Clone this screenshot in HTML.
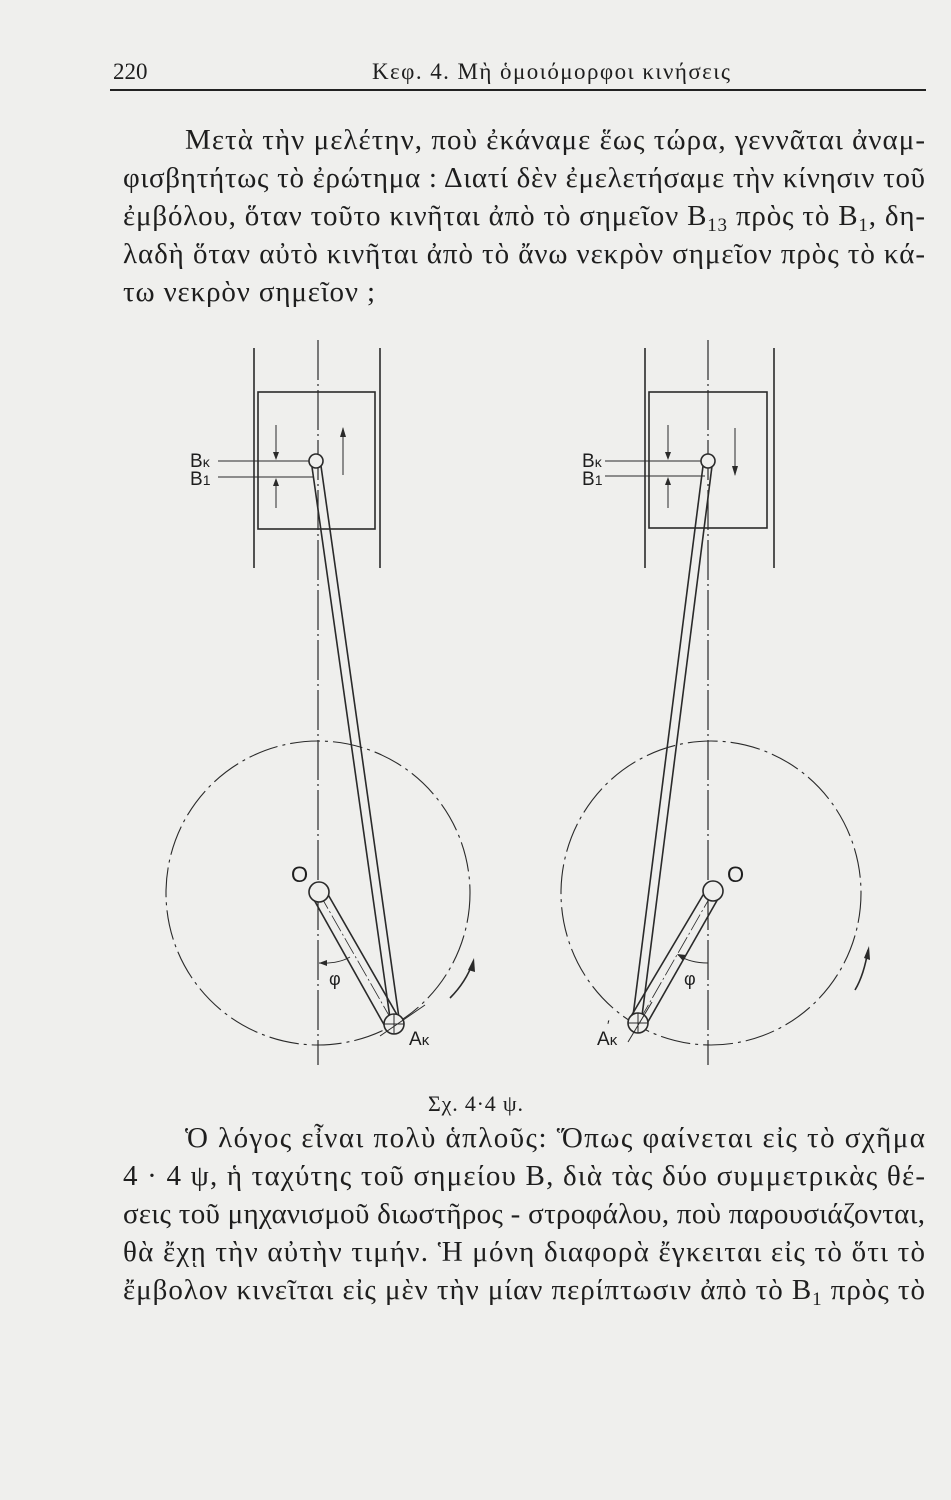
<!DOCTYPE html>
<html><head><meta charset="utf-8"><style>
html,body{margin:0;padding:0;background:#efefed;}
svg{display:block}
text{font-family:"Liberation Serif","DejaVu Serif",serif;fill:#1e1e1e}
.s{font-family:"Liberation Sans","DejaVu Sans",sans-serif}
</style></head><body>
<svg width="951" height="1500" viewBox="0 0 951 1500" xmlns="http://www.w3.org/2000/svg">
<rect width="951" height="1500" fill="#efefed"/>
<text x="113" y="79" font-size="23">220</text>
<text x="372" y="79" font-size="23" textLength="358" lengthAdjust="spacing">Κεφ. 4. Μὴ ὁμοιόμορφοι κινήσεις</text>
<line x1="110" y1="90" x2="926" y2="90" stroke="#222" stroke-width="2"/>
<g font-size="29">
<text x="185" y="149" textLength="740" lengthAdjust="spacing">Μετὰ τὴν μελέτην, ποὺ ἐκάναμε ἕως τώρα, γεννᾶται ἀναμ-</text>
<text x="123" y="187" textLength="802" lengthAdjust="spacing">φισβητήτως τὸ ἐρώτημα : Διατί δὲν ἐμελετήσαμε τὴν κίνησιν τοῦ</text>
<text x="123" y="225" textLength="802" lengthAdjust="spacing">ἐμβόλου, ὅταν τοῦτο κινῆται ἀπὸ τὸ σημεῖον B<tspan font-size="19" dy="6">13</tspan><tspan dy="-6"> πρὸς τὸ B</tspan><tspan font-size="19" dy="6">1</tspan><tspan dy="-6">, δη-</tspan></text>
<text x="123" y="263" textLength="802" lengthAdjust="spacing">λαδὴ ὅταν αὐτὸ κινῆται ἀπὸ τὸ ἄνω νεκρὸν σημεῖον πρὸς τὸ κά-</text>
<text x="123" y="301" textLength="252" lengthAdjust="spacing">τω νεκρὸν σημεῖον ;</text>
<text x="185" y="1147" textLength="740" lengthAdjust="spacing">Ὁ λόγος εἶναι πολὺ ἁπλοῦς: Ὅπως φαίνεται εἰς τὸ σχῆμα</text>
<text x="123" y="1185" textLength="802" lengthAdjust="spacing">4 · 4 ψ, ἡ ταχύτης τοῦ σημείου B, διὰ τὰς δύο συμμετρικὰς θέ-</text>
<text x="123" y="1223" textLength="802" lengthAdjust="spacing">σεις τοῦ μηχανισμοῦ διωστῆρος - στροφάλου, ποὺ παρουσιάζονται,</text>
<text x="123" y="1261" textLength="802" lengthAdjust="spacing">θὰ ἔχῃ τὴν αὐτὴν τιμήν. Ἡ μόνη διαφορὰ ἔγκειται εἰς τὸ ὅτι τὸ</text>
<text x="123" y="1299" textLength="802" lengthAdjust="spacing">ἔμβολον κινεῖται εἰς μὲν τὴν μίαν περίπτωσιν ἀπὸ τὸ B<tspan font-size="19" dy="6">1</tspan><tspan dy="-6"> πρὸς τὸ</tspan></text>
</g>
<text x="428" y="1111" font-size="22" textLength="95" lengthAdjust="spacing">Σχ. 4·4 ψ.</text>

<g stroke="#2a2a2a" stroke-width="1.6" fill="none">
<!-- LEFT -->
<line x1="254" y1="348" x2="254" y2="568"/>
<line x1="380" y1="348" x2="380" y2="568"/>
<line x1="318" y1="340" x2="318" y2="1065" stroke-width="1.2" stroke-dasharray="40 4 2 4"/>
<rect x="258" y="392" width="117" height="137"/>
<line x1="218" y1="461" x2="310" y2="461" stroke-width="1"/>
<line x1="218" y1="477" x2="313" y2="477" stroke-width="1"/>
<line x1="276" y1="425" x2="276" y2="458" stroke-width="1"/>
<path d="M273 452 L276 460 L279 452Z" fill="#2a2a2a" stroke="none"/>
<line x1="276" y1="480" x2="276" y2="508" stroke-width="1"/>
<path d="M273 486 L276 478 L279 486Z" fill="#2a2a2a" stroke="none"/>
<line x1="343" y1="428" x2="343" y2="475" stroke-width="1"/>
<path d="M340 437 L343 427 L346 437Z" fill="#2a2a2a" stroke="none"/>
<line x1="312" y1="467" x2="390" y2="1018"/>
<line x1="321" y1="466" x2="399" y2="1018"/>
<circle cx="316" cy="461" r="7" fill="#efefed"/>
<ellipse cx="318" cy="893" rx="152" ry="152" stroke-width="1.1" stroke-dasharray="30 5 3 5"/>
<line x1="313" y1="898" x2="387" y2="1030"/>
<line x1="326" y1="891" x2="400" y2="1020"/>
<line x1="319" y1="893" x2="395" y2="1026" stroke-width="0.8" stroke-dasharray="18 3 2 3"/>
<circle cx="319" cy="892" r="10" fill="#efefed"/>
<circle cx="394" cy="1024" r="10" fill="#efefed"/>
<line x1="384" y1="1024" x2="404" y2="1024" stroke-width="1"/>
<line x1="394" y1="1014" x2="394" y2="1034" stroke-width="1"/>
<line x1="380" y1="1036" x2="425" y2="1005" stroke-width="1"/>
<path d="M319 963 Q338 964 350 957" stroke-width="1"/>
<path d="M327 960 L319 963 L327 966Z" fill="#2a2a2a" stroke="none"/>
<path d="M450 998 Q466 982 473 962"/>
<path d="M468 970 L474 958 L475 972Z" fill="#2a2a2a" stroke="none"/>

<!-- RIGHT -->
<line x1="645" y1="348" x2="645" y2="568"/>
<line x1="774" y1="348" x2="774" y2="568"/>
<line x1="708" y1="340" x2="708" y2="1065" stroke-width="1.2" stroke-dasharray="40 4 2 4"/>
<rect x="649" y="392" width="118" height="136"/>
<line x1="605" y1="461" x2="702" y2="461" stroke-width="1"/>
<line x1="605" y1="476" x2="705" y2="476" stroke-width="1"/>
<line x1="668" y1="425" x2="668" y2="458" stroke-width="1"/>
<path d="M665 452 L668 460 L671 452Z" fill="#2a2a2a" stroke="none"/>
<line x1="668" y1="479" x2="668" y2="508" stroke-width="1"/>
<path d="M665 485 L668 477 L671 485Z" fill="#2a2a2a" stroke="none"/>
<line x1="735" y1="428" x2="735" y2="475" stroke-width="1"/>
<path d="M732 466 L735 476 L738 466Z" fill="#2a2a2a" stroke="none"/>
<line x1="703" y1="466" x2="633" y2="1016"/>
<line x1="712" y1="466" x2="642" y2="1016"/>
<circle cx="708" cy="461" r="7" fill="#efefed"/>
<ellipse cx="711" cy="893" rx="150" ry="152" stroke-width="1.1" stroke-dasharray="30 5 3 5"/>
<line x1="706" y1="890" x2="630" y2="1018"/>
<line x1="719" y1="897" x2="645" y2="1027"/>
<line x1="713" y1="892" x2="638" y2="1023" stroke-width="0.8" stroke-dasharray="18 3 2 3"/>
<circle cx="713" cy="891" r="10" fill="#efefed"/>
<circle cx="638" cy="1023" r="10" fill="#efefed"/>
<line x1="628" y1="1023" x2="648" y2="1023" stroke-width="1"/>
<line x1="638" y1="1013" x2="638" y2="1033" stroke-width="1"/>
<line x1="628" y1="1042" x2="652" y2="1002" stroke-width="1"/>
<path d="M708 963 Q690 963 678 955" stroke-width="1"/>
<path d="M686 955 L677 954 L683 961Z" fill="#2a2a2a" stroke="none"/>
<path d="M855 990 Q864 975 868 950"/>
<path d="M864 958 L869 946 L870 960Z" fill="#2a2a2a" stroke="none"/>
</g>
<g font-size="19" class="s">
<text x="190" y="467" class="s">B<tspan font-size="14">κ</tspan></text>
<text x="190" y="485" class="s">B<tspan font-size="14">1</tspan></text>
<text x="582" y="467" class="s">B<tspan font-size="14">κ</tspan></text>
<text x="582" y="485" class="s">B<tspan font-size="14">1</tspan></text>
<text x="291" y="882" font-size="22" class="s">O</text>
<text x="727" y="882" font-size="22" class="s">O</text>
<text x="409" y="1045" class="s">A<tspan font-size="15">κ</tspan></text>
<text x="597" y="1045" class="s">A<tspan font-size="15">κ</tspan></text>
<text x="607" y="1030" font-size="14" class="s">′</text>
<text x="329" y="985" font-size="18" class="s">φ</text>
<text x="684" y="985" font-size="18" class="s">φ</text>
</g>
</svg>
</body></html>
